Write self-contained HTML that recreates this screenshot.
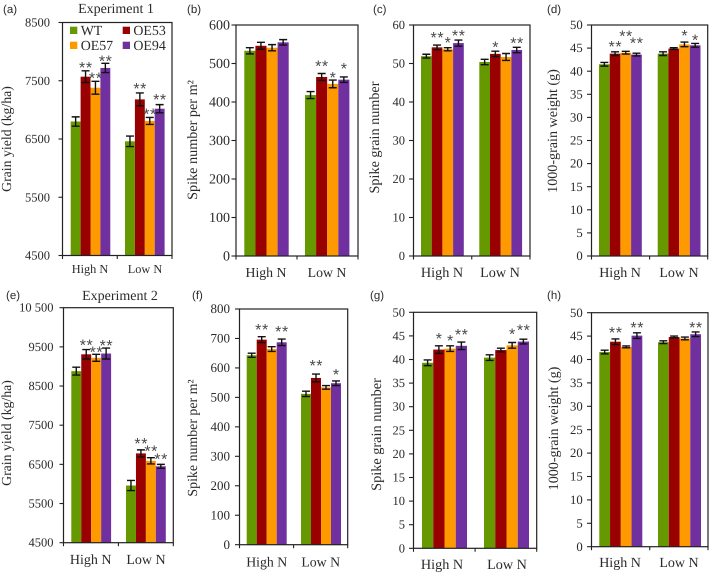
<!DOCTYPE html>
<html>
<head>
<meta charset="utf-8">
<title>Grain yield charts</title>
<style>
html,body{margin:0;padding:0;background:#fff;}
svg{display:block;text-rendering:geometricPrecision;}
.serif{font-family:"Liberation Serif",serif;fill:#2a2a2a;}
.sans{font-family:"Liberation Sans",sans-serif;fill:#2a2a2a;}
</style>
</head>
<body>
<svg id="chart" width="709" height="574" viewBox="0 0 709 574" xmlns="http://www.w3.org/2000/svg">
  <text class="serif" x="116" y="13" font-size="14" text-anchor="middle">Experiment 1</text>
  <text class="serif" x="120" y="300" font-size="14" text-anchor="middle">Experiment 2</text>
</svg>
<script>
const categories = ['High N', 'Low N'];
const seriesNames = ['WT', 'OE53', 'OE57', 'OE94'];
const seriesColors = ['#669900', '#990000', '#FF9900', '#7030A0'];

const aTicks = ['4500', '5500', '6500', '7500', '8500'];
const aHighN = [6800, 7570, 7380, 7720];
const aLowN = [6460, 7180, 6810, 7020];
const aHighErr = [80, 100, 110, 80];
const aLowErr = [90, 110, 60, 70];
const aHighSig = ['', '**', '**', '**'];
const aLowSig = ['', '**', '**', '**'];

const bTicks = ['0', '100', '200', '300', '400', '500', '600'];
const bHighN = [533, 546, 541, 555];
const bLowN = [418, 465, 447, 458];
const bHighErr = [8, 9, 8, 7];
const bLowErr = [9, 9, 10, 7];
const bHighSig = ['', '', '', ''];
const bLowSig = ['', '**', '*', '*'];

const cTicks = ['0', '10', '20', '30', '40', '50', '60'];
const cHighN = [51.9, 54.2, 53.7, 55.3];
const cLowN = [50.4, 52.5, 51.7, 53.5];
const cHighErr = [0.5, 0.6, 0.4, 0.8];
const cLowErr = [0.7, 0.7, 0.9, 0.7];
const cHighSig = ['', '**', '*', '**'];
const cLowSig = ['', '*', '', '**'];

const dTicks = ['0', '5', '10', '15', '20', '25', '30', '35', '40', '45', '50'];
const dHighN = [41.5, 43.8, 44.0, 43.6];
const dLowN = [43.8, 44.9, 45.8, 45.6];
const dHighErr = [0.4, 0.4, 0.3, 0.3];
const dLowErr = [0.4, 0.2, 0.5, 0.4];
const dHighSig = ['', '**', '**', '**'];
const dLowSig = ['', '', '*', '*'];

const eTicks = ['4500', '5500', '6500', '7500', '8500', '9500', '10 500'];
const eHighN = [8880, 9310, 9220, 9330];
const eLowN = [5960, 6780, 6590, 6450];
const eHighErr = [100, 120, 90, 140];
const eLowErr = [130, 90, 80, 50];
const eHighSig = ['', '**', '**', '**'];
const eLowSig = ['', '**', '**', '**'];

const fTicks = ['0', '100', '200', '300', '400', '500', '600', '700', '800'];
const fHighN = [643, 696, 664, 687];
const fLowN = [512, 566, 534, 548];
const fHighErr = [7, 10, 8, 11];
const fLowErr = [9, 13, 6, 8];
const fHighSig = ['', '**', '', '**'];
const fLowSig = ['', '**', '', '*'];

const gTicks = ['0', '5', '10', '15', '20', '25', '30', '35', '40', '45', '50'];
const gHighN = [39.3, 42.1, 42.3, 42.9];
const gLowN = [40.4, 42.0, 43.0, 43.8];
const gHighErr = [0.6, 0.8, 0.6, 0.8];
const gLowErr = [0.6, 0.4, 0.6, 0.5];
const gHighSig = ['', '*', '*', '**'];
const gLowSig = ['', '', '*', '**'];

const hTicks = ['0', '5', '10', '15', '20', '25', '30', '35', '40', '45', '50'];
const hHighN = [41.6, 43.8, 42.7, 45.1];
const hLowN = [43.7, 44.8, 44.5, 45.4];
const hHighErr = [0.4, 0.6, 0.2, 0.6];
const hLowErr = [0.3, 0.2, 0.3, 0.5];
const hHighSig = ['', '**', '', '**'];
const hLowSig = ['', '', '', '**'];

const panels = [
  {id:'a', ticks:aTicks, values:[aHighN,aLowN], errs:[aHighErr,aLowErr], sig:[aHighSig,aLowSig],
   L:62.5,R:172,T:22.5,B:255.5, starts:[70.7,125], barW:9.9, lift:[[0,7,7,6],[0,8,7,9]],
   tickFs:12.5,tickEnd:50,tickLen:4, groupFs:12.3,groupY:273, groupX:[90,145],
   title:'Grain yield (kg/ha)',titleX:11,titleY:139,titleFs:13.8, tag:'(a)',tagX:3,tagY:13},
  {id:'b', ticks:bTicks, values:[bHighN,bLowN], errs:[bHighErr,bLowErr], sig:[bHighSig,bLowSig],
   L:236,R:358,T:25,B:256, starts:[244.3,305], barW:11.1, lift:[[0,0,0,0],[0,11,6,12]],
   tickFs:14,tickEnd:230,tickLen:4.5, groupFs:13.8,groupY:277, groupX:[266,327],
   title:'Spike number per m²',titleX:197,titleY:140,titleFs:14.2, tag:'(b)',tagX:187,tagY:13},
  {id:'c', ticks:cTicks, values:[cHighN,cLowN], errs:[cHighErr,cLowErr], sig:[cHighSig,cLowSig],
   L:413.5,R:530,T:25,B:256, starts:[421,479.3], barW:10.7, lift:[[0,11,9,8],[0,8,0,8]],
   tickFs:12.5,tickEnd:405,tickLen:4.5, groupFs:14.2,groupY:277, groupX:[442,500],
   title:'Spike grain number',titleX:379,titleY:137.5,titleFs:14.2, tag:'(c)',tagX:373,tagY:13},
  {id:'d', ticks:dTicks, values:[dHighN,dLowN], errs:[dHighErr,dLowErr], sig:[dHighSig,dLowSig],
   L:591.5,R:707.7,T:25,B:256, starts:[599,657.7], barW:10.7, lift:[[0,9,19,14],[0,0,10,7]],
   tickFs:12.7,tickEnd:582.7,tickLen:4.5, groupFs:14,groupY:277, groupX:[620,679],
   title:'1000-grain weight (g)',titleX:557,titleY:131,titleFs:14.1, tag:'(d)',tagX:547,tagY:13},
  {id:'e', ticks:eTicks, values:[eHighN,eLowN], errs:[eHighErr,eLowErr], sig:[eHighSig,eLowSig],
   L:63.5,R:173.3,T:307.7,B:542.7, starts:[71.3,126], barW:9.95, lift:[[0,8,6,6],[0,10,10.5,9]],
   tickFs:12.5,tickEnd:53.5,tickLen:4, groupFs:14,groupY:564, groupX:[90.7,146],
   title:'Grain yield (kg/ha)',titleX:11,titleY:433,titleFs:13.8, tag:'(e)',tagX:6,tagY:299},
  {id:'f', ticks:fTicks, values:[fHighN,fLowN], errs:[fHighErr,fLowErr], sig:[fHighSig,fLowSig],
   L:239.5,R:347.7,T:309,B:544.7, starts:[246.7,301], barW:10, lift:[[0,11,0,11],[0,12,0,10]],
   tickFs:13,tickEnd:230,tickLen:4.5, groupFs:13.8,groupY:566.7, groupX:[266.7,320.7],
   title:'Spike number per m²',titleX:197,titleY:438,titleFs:13.9, tag:'(f)',tagX:192,tagY:299},
  {id:'g', ticks:gTicks, values:[gHighN,gLowN], errs:[gHighErr,gLowErr], sig:[gHighSig,gLowSig],
   L:413.5,R:536.7,T:312.3,B:548.3, starts:[422,484], barW:11.25, lift:[[0,11,9,11],[0,0,12,13]],
   tickFs:12.5,tickEnd:405,tickLen:4.5, groupFs:14.2,groupY:569, groupX:[442,507],
   title:'Spike grain number',titleX:381,titleY:434.5,titleFs:14.3, tag:'(g)',tagX:370,tagY:299},
  {id:'h', ticks:hTicks, values:[hHighN,hLowN], errs:[hHighErr,hLowErr], sig:[hHighSig,hLowSig],
   L:591.5,R:708,T:312.7,B:546.7, starts:[599.3,658], barW:10.75, lift:[[0,10,0,9],[0,0,0,8]],
   tickFs:12.7,tickEnd:582.7,tickLen:4.5, groupFs:14,groupY:567, groupX:[620,679],
   title:'1000-grain weight (g)',titleX:558,titleY:428.5,titleFs:14.1, tag:'(h)',tagX:547,tagY:299}
];

const svg = document.getElementById('chart');
const NS = 'http://www.w3.org/2000/svg';

function make(parent, tag, attrs, text) {
  const el = document.createElementNS(NS, tag);
  for (const k in attrs) el.setAttribute(k, attrs[k]);
  if (text !== undefined) el.textContent = text;
  parent.appendChild(el);
  return el;
}
function num(label) { return parseFloat(label.replace(/\s/g, '')); }

panels.forEach(function (p) {
  const g = make(svg, 'g', {});
  
  

  const lo = num(p.ticks[0]);
  const hi = num(p.ticks[p.ticks.length - 1]);
  const yScale = function (v) { return p.B - (v - lo) / (hi - lo) * (p.B - p.T); };
  const xBar = function (gi, si) { return p.starts[gi] + si * p.barW; };

  const tag = make(g, 'text', {class:'sans', x:p.tagX, y:p.tagY, 'font-size':11.5}, p.tag);
  
  

  categories.forEach(function (cat, gi) {
    seriesNames.forEach(function (name, si) {
      const v = p.values[gi][si];
      const e = p.errs[gi][si];
      const x = xBar(gi, si);
      const cx = x + p.barW / 2;
      const bar = make(g, 'rect', {x:x, y:yScale(v), width:p.barW, height:p.B - yScale(v), fill:seriesColors[si]});
      
      

      const d = 'M' + cx + ' ' + yScale(v + e) + 'V' + yScale(v - e) +
        'M' + (cx - 4) + ' ' + yScale(v + e) + 'H' + (cx + 4) +
        'M' + (cx - 4) + ' ' + yScale(v - e) + 'H' + (cx + 4);
      const err = make(g, 'path', {d:d, stroke:'#111', 'stroke-width':1.4, fill:'none'});
      
      

      const s = p.sig[gi][si];
      if (s) {
        const fs = 16;
        const sy = yScale(v + e) - p.lift[gi][si] + 0.57 * fs;
        const star = make(g, 'text', {class:'sans', x:cx + 0.3, y:sy, 'font-size':fs, 'text-anchor':'middle', 'letter-spacing':'0.6', style:'fill:#4a4a4a'}, s);
        
        
      }
    });
    const lab = make(g, 'text', {class:'serif', x:p.groupX[gi], y:p.groupY, 'font-size':p.groupFs, 'text-anchor':'middle'}, cat);
    
    
  });

  const frame = make(g, 'rect', {x:p.L, y:p.T, width:p.R - p.L, height:p.B - p.T, fill:'none', stroke:'#222', 'stroke-width':1.2});
  
  

  p.ticks.forEach(function (label) {
    const y = yScale(num(label));
    const tick = make(g, 'line', {x1:p.L - p.tickLen, x2:p.L, y1:y, y2:y, stroke:'#222', 'stroke-width':1.1});
    
    
    const t = make(g, 'text', {class:'serif', x:p.tickEnd, y:y + p.tickFs * 0.32, 'font-size':p.tickFs, 'text-anchor':'end'}, label);
    
    
  });

  [p.L, (p.L + p.R) / 2, p.R].forEach(function (x) {
    const tick = make(g, 'line', {x1:x, x2:x, y1:p.B, y2:p.B + 3.5, stroke:'#222', 'stroke-width':1.1});
    
    
  });

  const title = make(g, 'text', {class:'serif', x:0, y:0, 'font-size':p.titleFs, 'text-anchor':'middle',
    transform:'translate(' + p.titleX + ' ' + p.titleY + ') rotate(-90)'}, p.title);
  
  
});

/* Legend inside panel (a) */
const legend = make(svg, 'g', {});


const legendSpots = [[70, 26.7], [122.7, 26.7], [70, 41.7], [122.7, 41.7]];
const legendOrder = [0, 1, 2, 3];
legendOrder.forEach(function (si, i) {
  const pos = legendSpots[i];
  const sw = make(legend, 'rect', {x:pos[0], y:pos[1], width:7.3, height:7.3, fill:seriesColors[si]});
  
  
  const tx = make(legend, 'text', {class:'serif', x:pos[0] + 10.7, y:pos[1] + 8.3, 'font-size':13.9}, seriesNames[si]);
  
  
});
</script>
</body>
</html>
